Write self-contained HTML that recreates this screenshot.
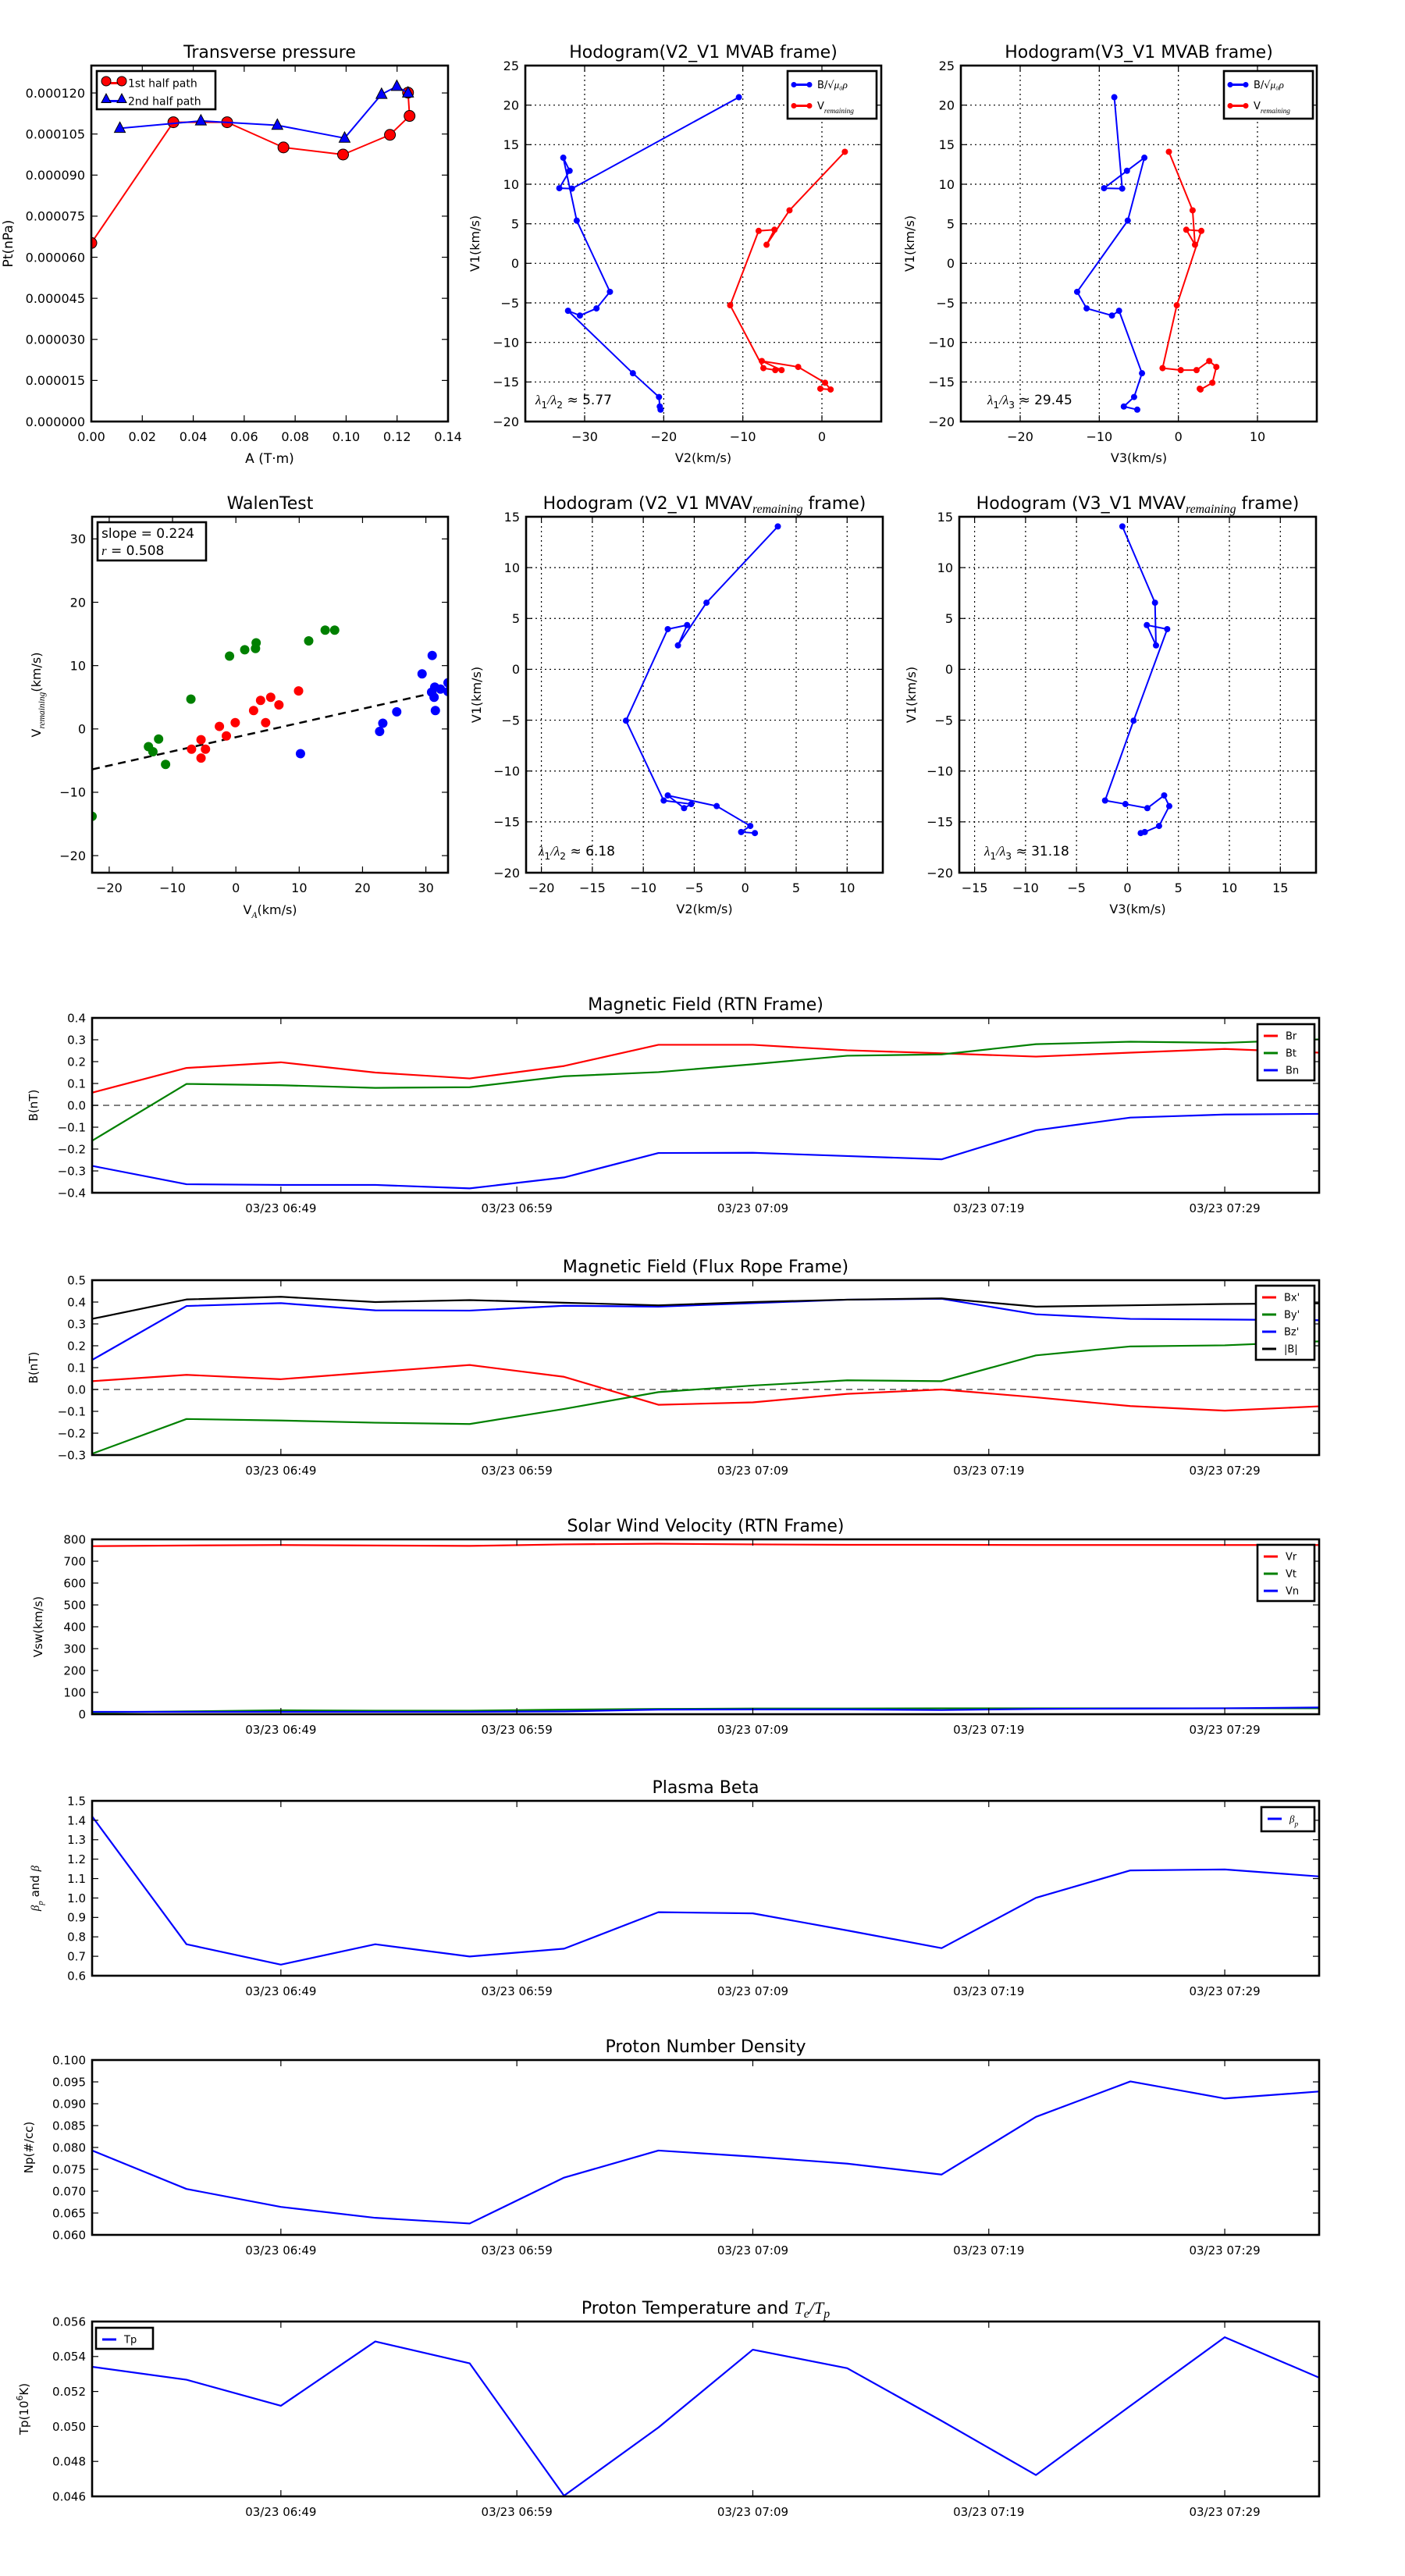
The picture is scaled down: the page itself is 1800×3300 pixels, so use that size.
<!DOCTYPE html>
<html><head><meta charset="utf-8"><style>
html,body{margin:0;padding:0;background:#fff;}
svg{display:block;font-family:"DejaVu Sans","Liberation Sans",sans-serif;}
</style></head>
<body>
<svg id="fig" xmlns="http://www.w3.org/2000/svg" width="1800" height="3300" viewBox="0 0 1800 3300">
<rect x="0" y="0" width="1800" height="3300" fill="#fff"/>
</svg>
<script>
// ---------- Transverse pressure ----------
const ptA1 = [0, 0.0322, 0.0533, 0.0754, 0.0988, 0.1172, 0.1249, 0.1243];
const ptP1 = [0.0000652, 0.0001093, 0.0001093, 0.0001001, 0.0000975, 0.0001047, 0.0001116, 0.0001201];
const ptA2 = [0.0112, 0.0430, 0.0730, 0.0994, 0.1139, 0.1199, 0.1243];
const ptP2 = [0.0001071, 0.0001098, 0.0001082, 0.0001035, 0.0001195, 0.0001224, 0.0001200];
const ptXTicks = [0, 0.02, 0.04, 0.06, 0.08, 0.10, 0.12, 0.14];
const ptYTicks = [0, 0.000015, 0.00003, 0.000045, 0.00006, 0.000075, 0.00009, 0.000105, 0.00012];

// ---------- Hodogram MVAB ----------
const hbV1 = [21.0, 9.45, 9.5, 11.7, 13.35, 5.4, -3.6, -5.7, -6.6, -6.0, -13.9, -16.9, -18.1, -18.5];
const hbV2 = [-10.5, -31.6, -33.2, -31.9, -32.7, -31.0, -26.8, -28.5, -30.6, -32.1, -23.9, -20.6, -20.5, -20.4];
const hbV3 = [-8.1, -7.1, -9.4, -6.5, -4.3, -6.4, -12.8, -11.6, -8.4, -7.5, -4.6, -5.6, -6.9, -5.2];
const hrV1 = [14.1, 6.7, 2.35, 4.25, 4.1, -5.3, -13.25, -13.5, -13.5, -12.35, -13.1, -15.1, -15.95, -15.85];
const hrV2 = [2.9, -4.1, -7.0, -6.0, -8.0, -11.6, -7.4, -5.9, -5.1, -7.6, -3.0, 0.4, 1.1, -0.2];
const hrV3 = [-1.2, 1.8, 2.1, 1.0, 2.9, -0.2, -2.0, 0.3, 2.3, 3.9, 4.8, 4.3, 2.8, 2.7];
const hbV2Ticks = [-30, -20, -10, 0];
const hbV3Ticks = [-20, -10, 0, 10];
const hbYTicks = [-20, -15, -10, -5, 0, 5, 10, 15, 20, 25];

// ---------- Hodogram MVAV ----------
const hvV1 = [14.05, 6.55, 2.35, 4.35, 3.95, -5.05, -12.9, -13.25, -13.65, -12.4, -13.45, -15.4, -16.0, -16.1];
const hvV2 = [3.2, -3.8, -6.6, -5.7, -7.6, -11.7, -8.0, -5.3, -6.0, -7.6, -2.8, 0.5, -0.4, 0.95];
const hvV3 = [-0.5, 2.7, 2.8, 1.9, 3.9, 0.6, -2.2, -0.2, 1.95, 3.6, 4.1, 3.1, 1.7, 1.3];
const hvV2Ticks = [-20, -15, -10, -5, 0, 5, 10];
const hvV3Ticks = [-15, -10, -5, 0, 5, 10, 15];
const hvYTicks = [-20, -15, -10, -5, 0, 5, 10, 15];

// ---------- Walen test ----------
const wGreenX = [-22.7, -13.8, -13.1, -12.2, -11.1, -7.1, -1.0, 1.4, 3.1, 3.2, 11.5, 14.1, 15.6];
const wGreenY = [-13.8, -2.8, -3.6, -1.6, -5.6, 4.7, 11.5, 12.5, 12.7, 13.6, 13.9, 15.6, 15.6];
const wRedX = [-7.0, -5.5, -5.5, -4.8, -2.6, -1.5, -0.1, 2.8, 3.9, 4.7, 5.5, 6.8, 9.9];
const wRedY = [-3.2, -1.7, -4.6, -3.2, 0.4, -1.1, 1.0, 2.9, 4.5, 1.0, 5.0, 3.8, 6.0];
const wBlueX = [10.2, 22.7, 23.2, 25.4, 29.4, 31.0, 30.9, 31.3, 31.4, 31.5, 32.3, 33.5, 33.5];
const wBlueY = [-3.9, -0.4, 0.9, 2.7, 8.7, 11.6, 5.8, 5.0, 6.6, 2.9, 6.3, 7.3, 5.9];
const wSlope = [0.224];
const wIntercept = [-1.3];
const wTicks = [-20, -10, 0, 10, 20, 30];

// ---------- Time series ----------
const tMinutes = [0, 4, 8, 12, 16, 20, 24, 28, 32, 36, 40, 44, 48, 52];
const tTickMinutes = [8, 18, 28, 38, 48];
const tTickLabels = ['03/23 06:49', '03/23 06:59', '03/23 07:09', '03/23 07:19', '03/23 07:29'];
const Br = [0.058, 0.171, 0.197, 0.150, 0.123, 0.180, 0.277, 0.277, 0.252, 0.238, 0.223, 0.241, 0.258, 0.241];
const Bt = [-0.162, 0.098, 0.092, 0.080, 0.083, 0.133, 0.152, 0.188, 0.227, 0.233, 0.280, 0.291, 0.286, 0.302];
const Bn = [-0.277, -0.361, -0.364, -0.364, -0.380, -0.330, -0.218, -0.217, -0.232, -0.247, -0.114, -0.056, -0.042, -0.039];
const Bxp = [0.038, 0.067, 0.047, 0.080, 0.112, 0.058, -0.070, -0.059, -0.020, 0.0, -0.036, -0.076, -0.097, -0.077];
const Byp = [-0.294, -0.135, -0.142, -0.152, -0.158, -0.089, -0.012, 0.018, 0.042, 0.038, 0.156, 0.197, 0.202, 0.220];
const Bzp = [0.135, 0.382, 0.395, 0.362, 0.361, 0.383, 0.379, 0.395, 0.411, 0.415, 0.344, 0.323, 0.320, 0.317];
const Bmag = [0.323, 0.412, 0.424, 0.400, 0.409, 0.397, 0.385, 0.400, 0.411, 0.417, 0.379, 0.385, 0.391, 0.394];
const Vr = [769, 772, 774, 772, 770, 777, 780, 777, 775, 775, 774, 774, 774, 774];
const Vt = [8, 13, 18, 16, 16, 21, 24, 26, 26, 27, 27, 27, 27, 27];
const Vn = [11, 11, 11, 11, 11, 13, 21, 22, 22, 19, 24, 26, 27, 31];
const betaP = [1.420, 0.762, 0.657, 0.762, 0.699, 0.739, 0.927, 0.921, 0.833, 0.742, 1.001, 1.142, 1.147, 1.111];
const Np = [0.0793, 0.0705, 0.0664, 0.0639, 0.0626, 0.0731, 0.0793, 0.0779, 0.0763, 0.0738, 0.0870, 0.0951, 0.0912, 0.0928];
const Tp = [0.05341, 0.05267, 0.05118, 0.05486, 0.05361, 0.04604, 0.04994, 0.05439, 0.05333, 0.05032, 0.04722, 0.05118, 0.05510, 0.05279];
const rtnTicks = [-0.4, -0.3, -0.2, -0.1, 0, 0.1, 0.2, 0.3, 0.4];
const fluxTicks = [-0.3, -0.2, -0.1, 0, 0.1, 0.2, 0.3, 0.4, 0.5];
const swTicks = [0, 100, 200, 300, 400, 500, 600, 700, 800];
const betaTicks = [0.6, 0.7, 0.8, 0.9, 1.0, 1.1, 1.2, 1.3, 1.4, 1.5];
const npTicks = [0.060, 0.065, 0.070, 0.075, 0.080, 0.085, 0.090, 0.095, 0.100];
const tpTicks = [0.046, 0.048, 0.050, 0.052, 0.054, 0.056];

const NS = 'http://www.w3.org/2000/svg';
const svg = document.getElementById('fig');
function mk(tag, attrs, parent, text) {
  const e = document.createElementNS(NS, tag);
  for (const k in attrs) e.setAttribute(k, attrs[k]);
  if (text !== undefined) e.textContent = text;
  (parent || svg).appendChild(e);
  return e;
}
function fmtNum(v, d) { const s = Math.abs(v).toFixed(d); return (v < -1e-12 ? '\u2212' : '') + s; }

function makeAxes(name, L, T, R, B, xd, yd) {
  const g = mk('g', {});
  
  
  const cp = mk('clipPath', {id: 'clip-' + name}, g);
  mk('rect', {x: L, y: T, width: R - L, height: B - T}, cp);
  const grid = mk('g', {}, g);
  
  
  const data = mk('g', {'clip-path': 'url(#clip-' + name + ')'}, g);
  
  
  return {name, g, grid, data, L, T, R, B,
    sx: v => L + (v - xd[0]) / (xd[1] - xd[0]) * (R - L),
    sy: v => B - (v - yd[0]) / (yd[1] - yd[0]) * (B - T)};
}
function xTicks(ax, vals, labels, fs, gridOn) {
  vals.forEach((v, i) => {
    const x = ax.sx(v);
    const t1 = mk('line', {x1: x, x2: x, y1: ax.B, y2: ax.B - 8, stroke: '#000', 'stroke-width': 1.2}, ax.g);
    
    
    const t2 = mk('line', {x1: x, x2: x, y1: ax.T, y2: ax.T + 8, stroke: '#000', 'stroke-width': 1.2}, ax.g);
    
    
    if (gridOn) {
      const gl = mk('line', {x1: x, x2: x, y1: ax.T, y2: ax.B, stroke: '#000', 'stroke-width': 1.2, 'stroke-dasharray': '2,4'}, ax.grid);
      
      
    }
    const tx = mk('text', {x: x, y: ax.B + 25, 'text-anchor': 'middle', 'font-size': fs}, ax.g, labels[i]);
    
    
  });
}
function yTicks(ax, vals, labels, fs, gridOn) {
  vals.forEach((v, i) => {
    const y = ax.sy(v);
    const t1 = mk('line', {x1: ax.L, x2: ax.L + 8, y1: y, y2: y, stroke: '#000', 'stroke-width': 1.2}, ax.g);
    
    
    const t2 = mk('line', {x1: ax.R, x2: ax.R - 8, y1: y, y2: y, stroke: '#000', 'stroke-width': 1.2}, ax.g);
    
    
    if (gridOn) {
      const gl = mk('line', {x1: ax.L, x2: ax.R, y1: y, y2: y, stroke: '#000', 'stroke-width': 1.2, 'stroke-dasharray': '2,4'}, ax.grid);
      
      
    }
    const tx = mk('text', {x: ax.L - 8, y: y + fs * 0.36, 'text-anchor': 'end', 'font-size': fs}, ax.g, labels[i]);
    
    
  });
}
function frame(ax) {
  const r = mk('rect', {x: ax.L, y: ax.T, width: ax.R - ax.L, height: ax.B - ax.T, fill: 'none', stroke: '#000', 'stroke-width': 2.6}, ax.g);
  
  
}
function title(ax, parts, fs) {
  const t = mk('text', {x: (ax.L + ax.R) / 2, y: ax.T - 10, 'text-anchor': 'middle', 'font-size': fs || 22}, ax.g);
  
  
  addParts(t, parts);
}
function addParts(t, parts) {
  parts.forEach(p => {
    if (typeof p === 'string') { mk('tspan', {}, t, p); }
    else {
      const a = {};
      if (p.sub) { a['font-size'] = p.size || '72%'; a['dy'] = p.dy || 5; }
      if (p.italic) a['font-style'] = 'italic';
      if (p.serif) a['font-family'] = '"Liberation Serif",serif';
      mk('tspan', a, t, p.t);
      if (p.sub) mk('tspan', {dy: -(p.dy || 5), 'font-size': '1px'}, t, '\u200b');
    }
  });
}
function xLabel(ax, parts, off, fs) {
  const t = mk('text', {x: (ax.L + ax.R) / 2, y: ax.B + off, 'text-anchor': 'middle', 'font-size': fs || 17}, ax.g);
  
  
  addParts(t, parts);
}
function yLabel(ax, parts, cx, fs) {
  const cy = (ax.T + ax.B) / 2;
  const t = mk('text', {x: cx + 6, y: cy, transform: `rotate(-90 ${cx + 6} ${cy})`, 'text-anchor': 'middle', 'font-size': fs || 17}, ax.g);
  
  
  addParts(t, parts);
}
function series(ax, name, xs, ys, color, w, marker, msize) {
  const pts = xs.map((x, i) => ax.sx(x).toFixed(2) + ',' + ax.sy(ys[i]).toFixed(2)).join(' ');
  const pl = mk('polyline', {points: pts, fill: 'none', stroke: color, 'stroke-width': w, 'stroke-linejoin': 'round'}, ax.data);
  
  
  if (marker) xs.forEach((x, i) => markerAt(ax.data, name, marker, ax.sx(x), ax.sy(ys[i]), color, msize));
}
function markerAt(parent, name, marker, cx, cy, color, r) {
  let m;
  if (marker === 'o') m = mk('circle', {cx, cy, r, fill: color, stroke: '#000', 'stroke-width': 1}, parent);
  else if (marker === 'dot') m = mk('circle', {cx, cy, r, fill: color}, parent);
  else m = mk('polygon', {points: `${cx},${cy - r * 1.15} ${cx + r},${cy + r * 0.75} ${cx - r},${cy + r * 0.75}`, fill: color, stroke: '#000', 'stroke-width': 1}, parent);
  
  
}
function legend(ax, name, x, y, w, h, items, fs, lineLen, marker, msize, rowH, textOff) {
  const g = mk('g', {}, ax.g);
  
  
  const r = mk('rect', {x, y, width: w, height: h, fill: '#fff', stroke: '#000', 'stroke-width': 2.6}, g);
  
  
  items.forEach((it, i) => {
    const cy = y + rowH * 0.5 + 4 + i * rowH;
    const lx = x + 8;
    const ln = mk('line', {x1: lx, x2: lx + lineLen, y1: cy, y2: cy, stroke: it.color, 'stroke-width': 3}, g);
    
    
    if (marker) { markerAt(g, 'legend', marker, lx, cy, it.color, msize); markerAt(g, 'legend', marker, lx + lineLen, cy, it.color, msize); }
    const t = mk('text', {x: lx + lineLen + textOff, y: cy + fs * 0.36, 'font-size': fs}, g);
    
    
    addParts(t, it.label);
  });
}
function note(ax, x, y, parts, fs) {
  const t = mk('text', {x, y, 'font-size': fs || 17}, ax.g);
  
  
  addParts(t, parts);
}
const M = s => s.replace('-', '\u2212');

// ===== Transverse pressure =====
(function () {
  const ax = makeAxes('transverse-pressure', 117, 84, 574, 540, [0, 0.14], [0, 0.00013]);
  xTicks(ax, ptXTicks, ptXTicks.map(v => v.toFixed(2)), 16, false);
  yTicks(ax, ptYTicks, ptYTicks.map(v => v.toFixed(6)), 16, false);
  series(ax, 'first-half-path', ptA1, ptP1, '#ff0000', 2, 'o', 7);
  series(ax, 'second-half-path', ptA2, ptP2, '#0000ff', 2, '^', 7);
  frame(ax);
  title(ax, ['Transverse pressure']);
  xLabel(ax, ['A (T\u00b7m)'], 53);
  yLabel(ax, ['Pt(nPa)'], 10);
  legend(ax, 'pressure-legend', 124, 91, 152, 49, [{color: '#ff0000', label: ['1st half path']}, {color: '#0000ff', label: ['2nd half path']}], 14, 20, null, 0, 23, 12);
  const g = ax.g.lastChild;
  markerAt(g, 'legend-first', 'o', 136, 104, '#ff0000', 6); markerAt(g, 'legend-first', 'o', 156, 104, '#ff0000', 6);
  markerAt(g, 'legend-second', '^', 136, 127, '#0000ff', 6); markerAt(g, 'legend-second', '^', 156, 127, '#0000ff', 6);
})();

const legBR = [{color: '#0000ff', label: ['B/\u221a', {t: '\u03bc\u2080\u03c1', italic: true, serif: true}]}, {color: '#ff0000', label: ['V', {t: 'remaining', sub: true, italic: true, serif: true}]}];
const lam = (a, b, v) => [{t: '\u03bb', italic: true, serif: true}, {t: '1', sub: true}, {t: '/\u03bb', italic: true, serif: true}, {t: b, sub: true}, ' \u2248 ' + v];

// ===== Hodogram V2_V1 MVAB =====
(function () {
  const ax = makeAxes('hodogram-v2-v1-mvab', 673, 84, 1129, 540, [-37.5, 7.5], [-20, 25]);
  xTicks(ax, hbV2Ticks, hbV2Ticks.map(v => M(String(v))), 16, true);
  yTicks(ax, hbYTicks, hbYTicks.map(v => M(String(v))), 16, true);
  series(ax, 'b-alfven', hbV2, hbV1, '#0000ff', 2, 'dot', 4);
  series(ax, 'v-remaining', hrV2, hrV1, '#ff0000', 2, 'dot', 4);
  frame(ax);
  title(ax, ['Hodogram(V2_V1 MVAB frame)']);
  xLabel(ax, ['V2(km/s)'], 52, 16);
  yLabel(ax, ['V1(km/s)'], 608, 16);
  legend(ax, 'mvab-v2-legend', 1009, 91, 114, 61, legBR, 13, 20, 'dot', 3.5, 27, 10);
  note(ax, 686, 518, lam('1', '2', '5.77'));
})();
// ===== Hodogram V3_V1 MVAB =====
(function () {
  const ax = makeAxes('hodogram-v3-v1-mvab', 1231, 84, 1687, 540, [-27.5, 17.5], [-20, 25]);
  xTicks(ax, hbV3Ticks, hbV3Ticks.map(v => M(String(v))), 16, true);
  yTicks(ax, hbYTicks, hbYTicks.map(v => M(String(v))), 16, true);
  series(ax, 'b-alfven', hbV3, hbV1, '#0000ff', 2, 'dot', 4);
  series(ax, 'v-remaining', hrV3, hrV1, '#ff0000', 2, 'dot', 4);
  frame(ax);
  title(ax, ['Hodogram(V3_V1 MVAB frame)']);
  xLabel(ax, ['V3(km/s)'], 52, 16);
  yLabel(ax, ['V1(km/s)'], 1165, 16);
  legend(ax, 'mvab-v3-legend', 1568, 91, 114, 61, legBR, 13, 20, 'dot', 3.5, 27, 10);
  note(ax, 1265, 518, lam('1', '3', '29.45'));
})();
// ===== Walen test =====
(function () {
  const ax = makeAxes('walen-test', 118, 662, 574, 1118, [-22.7, 33.5], [-22.7, 33.5]);
  xTicks(ax, wTicks, wTicks.map(v => M(String(v))), 16, false);
  yTicks(ax, wTicks, wTicks.map(v => M(String(v))), 16, false);
  const x0 = -22.7, x1 = 33.5;
  const fl = mk('line', {x1: ax.sx(x0), y1: ax.sy(wSlope[0] * x0 + wIntercept[0]), x2: ax.sx(x1), y2: ax.sy(wSlope[0] * x1 + wIntercept[0]), stroke: '#000', 'stroke-width': 2.5, 'stroke-dasharray': '10,7'}, ax.data);
  
  
  wGreenX.forEach((x, i) => markerAt(ax.data, 'walen-green', 'dot', ax.sx(x), ax.sy(wGreenY[i]), '#008000', 6));
  wRedX.forEach((x, i) => markerAt(ax.data, 'walen-red', 'dot', ax.sx(x), ax.sy(wRedY[i]), '#ff0000', 6));
  wBlueX.forEach((x, i) => markerAt(ax.data, 'walen-blue', 'dot', ax.sx(x), ax.sy(wBlueY[i]), '#0000ff', 6));
  frame(ax);
  title(ax, ['WalenTest']);
  xLabel(ax, ['V', {t: 'A', sub: true, italic: true, serif: true}, '(km/s)'], 53, 16);
  yLabel(ax, ['V', {t: 'remaining', sub: true, italic: true, serif: true}, '(km/s)'], 46, 16);
  const bx = mk('rect', {x: 125, y: 669, width: 139, height: 49, fill: '#fff', stroke: '#000', 'stroke-width': 2.6}, ax.g);
  
  
  note(ax, 130, 689, ['slope = ' + wSlope[0].toFixed(3)], 17);
  note(ax, 130, 711, [{t: 'r', italic: true, serif: true}, ' = 0.508'], 17);
})();
// ===== Hodogram V2_V1 MVAV =====
(function () {
  const ax = makeAxes('hodogram-v2-v1-mvav', 674, 662, 1131, 1118, [-21.5, 13.5], [-20, 15]);
  xTicks(ax, hvV2Ticks, hvV2Ticks.map(v => M(String(v))), 16, true);
  yTicks(ax, hvYTicks, hvYTicks.map(v => M(String(v))), 16, true);
  series(ax, 'v-remaining-mvav', hvV2, hvV1, '#0000ff', 2, 'dot', 4);
  frame(ax);
  title(ax, ['Hodogram (V2_V1 MVAV', {t: 'remaining', sub: true, italic: true, serif: true}, ' frame)']);
  xLabel(ax, ['V2(km/s)'], 52, 16);
  yLabel(ax, ['V1(km/s)'], 610, 16);
  note(ax, 690, 1096, lam('1', '2', '6.18'));
})();
// ===== Hodogram V3_V1 MVAV =====
(function () {
  const ax = makeAxes('hodogram-v3-v1-mvav', 1229, 662, 1686, 1118, [-16.5, 18.5], [-20, 15]);
  xTicks(ax, hvV3Ticks, hvV3Ticks.map(v => M(String(v))), 16, true);
  yTicks(ax, hvYTicks, hvYTicks.map(v => M(String(v))), 16, true);
  series(ax, 'v-remaining-mvav', hvV3, hvV1, '#0000ff', 2, 'dot', 4);
  frame(ax);
  title(ax, ['Hodogram (V3_V1 MVAV', {t: 'remaining', sub: true, italic: true, serif: true}, ' frame)']);
  xLabel(ax, ['V3(km/s)'], 52, 16);
  yLabel(ax, ['V1(km/s)'], 1167, 16);
  note(ax, 1261, 1096, lam('1', '3', '31.18'));
})();

// ===== Time series =====
function tsPanel(name, T, yd, ticks, dec, ttl, ylab, ylx, lines, leg, zero) {
  const ax = makeAxes(name, 118, T, 1690, T + 224, [0, 52], yd);
  xTicks(ax, tTickMinutes, tTickLabels, 15, false);
  yTicks(ax, ticks, ticks.map(v => fmtNum(v, dec)), 15, false);
  if (zero) {
    const z = mk('line', {x1: ax.L, x2: ax.R, y1: ax.sy(0), y2: ax.sy(0), stroke: '#555', 'stroke-width': 1.5, 'stroke-dasharray': '8,6'}, ax.data);
    
    
  }
  lines.forEach(l => series(ax, l.n, tMinutes, l.v, l.c, 2.2));
  frame(ax);
  title(ax, ttl);
  yLabel(ax, ylab, ylx, 15);
  if (leg) legend(ax, name + '-legend', leg.x, leg.y, leg.w, leg.h, lines.map(l => ({color: l.c, label: l.lab})), 13, 18, null, 0, leg.rh, 10);
  return ax;
}
tsPanel('magnetic-field-rtn', 1304, [-0.4, 0.4], rtnTicks, 1, ['Magnetic Field (RTN Frame)'], ['B(nT)'], 42,
  [{n: 'br', v: Br, c: '#ff0000', lab: ['Br']}, {n: 'bt', v: Bt, c: '#008000', lab: ['Bt']}, {n: 'bn', v: Bn, c: '#0000ff', lab: ['Bn']}],
  {x: 1611, y: 1312, w: 73, h: 72, rh: 22}, true);
tsPanel('magnetic-field-flux-rope', 1640, [-0.3, 0.5], fluxTicks, 1, ['Magnetic Field (Flux Rope Frame)'], ['B(nT)'], 42,
  [{n: 'bx-prime', v: Bxp, c: '#ff0000', lab: ["Bx'"]}, {n: 'by-prime', v: Byp, c: '#008000', lab: ["By'"]}, {n: 'bz-prime', v: Bzp, c: '#0000ff', lab: ["Bz'"]}, {n: 'b-magnitude', v: Bmag, c: '#000000', lab: ['|B|']}],
  {x: 1609, y: 1647, w: 75, h: 95, rh: 22}, true);
tsPanel('solar-wind-velocity', 1972, [0, 800], swTicks, 0, ['Solar Wind Velocity (RTN Frame)'], ['Vsw(km/s)'], 48,
  [{n: 'vr', v: Vr, c: '#ff0000', lab: ['Vr']}, {n: 'vt', v: Vt, c: '#008000', lab: ['Vt']}, {n: 'vn', v: Vn, c: '#0000ff', lab: ['Vn']}],
  {x: 1611, y: 1979, w: 73, h: 72, rh: 22}, false);
tsPanel('plasma-beta', 2307, [0.6, 1.5], betaTicks, 1, ['Plasma Beta'], [{t: '\u03b2', italic: true, serif: true}, {t: 'p', sub: true, italic: true, serif: true}, ' and ', {t: '\u03b2', italic: true, serif: true}], 44,
  [{n: 'beta-p', v: betaP, c: '#0000ff', lab: [{t: '\u03b2', italic: true, serif: true}, {t: 'p', sub: true, italic: true, serif: true}]}],
  {x: 1616, y: 2315, w: 68, h: 31, rh: 22}, false);
tsPanel('proton-number-density', 2639, [0.06, 0.1], npTicks, 3, ['Proton Number Density'], ['Np(#/cc)'], 36,
  [{n: 'np', v: Np, c: '#0000ff', lab: ['Np']}], null, false);
tsPanel('proton-temperature', 2974, [0.046, 0.056], tpTicks, 3, ['Proton Temperature and ', {t: 'T', italic: true, serif: true}, {t: 'e', sub: true, italic: true, serif: true}, {t: '/T', italic: true, serif: true}, {t: 'p', sub: true, italic: true, serif: true}], ['Tp(10', {t: '6', sub: true, dy: -7}, 'K)'], 30,
  [{n: 'tp', v: Tp, c: '#0000ff', lab: ['Tp']}],
  {x: 123, y: 2982, w: 73, h: 27, rh: 22}, false);
</script>
</body></html>
